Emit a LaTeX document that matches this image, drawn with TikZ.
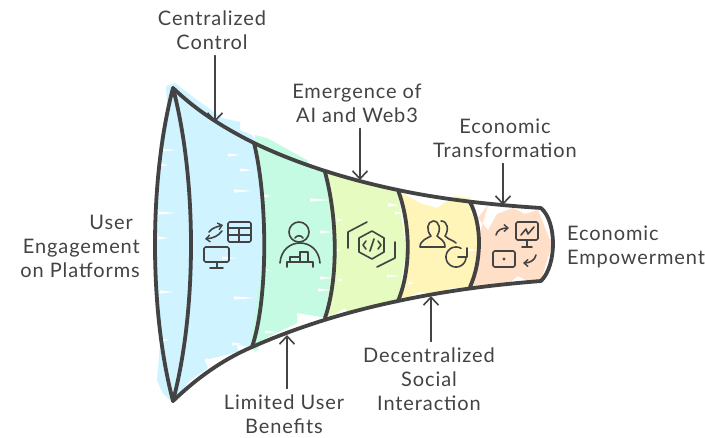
\documentclass[tikz,border=0pt]{standalone}
\usepackage{fontspec}
\setmainfont[LetterSpace=4.5]{Lato}
\usetikzlibrary{arrows.meta}
\definecolor{ink}{HTML}{434343}
\definecolor{cblue}{HTML}{CFF3FF}
\definecolor{cgreen}{HTML}{C5FBE3}
\definecolor{clime}{HTML}{E6FBC0}
\definecolor{cyellow}{HTML}{FFF5B8}
\definecolor{cpeach}{HTML}{FFDFC8}
\tikzset{
  outline/.style={draw=ink,line width=3.8pt,line cap=round,line join=round},
  icon/.style={draw=ink,line width=1.6pt,line cap=round,line join=round},
  iconarr/.style={icon,-{Straight Barb[length=4pt,width=7pt,line width=1.4pt]}},
  callout/.style={draw=ink,line width=1.6pt,line cap=round,-{Straight Barb[length=8pt,width=15pt,line width=1.6pt]}},
  label/.style={text=ink,inner sep=0pt,align=center,font=\fontsize{20}{24}\selectfont},
}
\newcommand{\spikes}[1]{\foreach \sx/\sy/\sl in {#1}{\fill[white] (\sx,\sy-1.6) -- (\sx+\sl,\sy) -- (\sx,\sy+1.6) -- cycle;}}
\begin{document}
\begin{tikzpicture}[x=1pt,y=-1pt]
\useasboundingbox (0,0) rectangle (705,437);
\fill[white] (0,0) rectangle (705,437);
% fills
\fill[cblue] (166,86) -- (175,83) -- (197,100) -- (222,118) -- (240,122) -- (240,130) -- (252,135) -- (258,143) -- (264,200) -- (264,300) -- (252,347) -- (237,345) -- (238,352) -- (205,360) -- (208,368) -- (188,382) -- (182,392) -- (172,402) -- (162,392) -- (157,380) -- (160,345) -- (154,245) -- (160,140) -- (167,105) -- cycle;
\fill[cgreen] (255,135) -- (267,138) -- (307,160) -- (313,170) -- (328,170) -- (335,250) -- (328,318) -- (297,313) -- (297,323) -- (262,340) -- (256,352) -- (250,347) -- (264,250) -- cycle;
\fill[clime] (325,170) -- (340,176) -- (398,190) -- (406,250) -- (398,303) -- (347,312) -- (345,308) -- (325,320) -- (334,250) -- cycle;
\fill[cyellow] (400,192) -- (420,203) -- (437,208) -- (455,196) -- (470,198) -- (479,240) -- (471,288) -- (450,288) -- (440,295) -- (420,292) -- (400,300) -- (407,250) -- cycle;
\fill[cpeach] (488,205) -- (478,218) -- (488,230) -- (497,214) -- (513,208) -- (525,214) -- (538,210) -- (552,245) -- (541,280) -- (528,281) -- (518,276) -- (505,286) -- (485,287) -- (472,287) -- (478,240) -- cycle;
% white scribble gaps
\spikes{160/150/17,159/165/10,158/213/18,158/238/10,160/292/14,160/340/10,234/191/18,222/258/14,234/298/22,232/344/10,205/360/16,228/155/12,240/170/12}
\spikes{263/196/8,262/270/8,310/200/22,320/232/12,320/278/12,318/290/14,265/332/12}
\spikes{395/213/8,387/276/12,388/205/12,335/250/6,337/220/6,338/280/5}
\spikes{466/250/12,470/212/6,405/247/5,408/283/6}
% outlines
\draw[outline] (173,88) .. controls (149,180) and (149,310) .. (173,401);
\draw[outline] (173,88) .. controls (197,180) and (197,310) .. (173,401);
\draw[outline] (173,88) .. controls (197,111) and (224,128) .. (254,143) .. controls (300,165) and (350,180) .. (398,190) .. controls (445,200) and (495,205) .. (541,208);
\draw[outline] (541,208) .. controls (557,222) and (557,265) .. (541,281);
\draw[outline] (541,281) .. controls (490,285) and (445,291) .. (398,301) .. controls (345,312) and (295,328) .. (252,347) .. controls (222,360) and (197,378) .. (173,401);
\draw[outline] (254,143) .. controls (268,200) and (268,300) .. (252,347);
\draw[outline] (325,172) .. controls (338,220) and (338,280) .. (325,318);
\draw[outline] (398,190) .. controls (411,225) and (411,270) .. (398,301);
\draw[outline] (470,202) .. controls (482,225) and (482,260) .. (470,287);
% icon 1
\draw[icon,rounded corners=1.5pt] (228,222) rectangle (251,242);
\draw[icon] (228,228) -- (251,228) (228,235) -- (251,235) (239,228) -- (239,242);
\draw[icon,rounded corners=1.5pt] (204,247) rectangle (229,262);
\draw[icon] (217,262) -- (217,267) (210,268) -- (223,268);
\draw[iconarr] (209,232) .. controls (212,228) and (216,227) .. (223,225);
\draw[iconarr] (222,231) .. controls (218,236) and (214,238) .. (205,239);
% icon 2
\draw[icon] (299,232) circle (10);
\draw[icon] (295,238) .. controls (297,235) and (301,235) .. (303,238);
\draw[icon] (280,263) .. controls (281,250) and (290,243) .. (300,243) .. controls (310,243) and (319,250) .. (320,263);
\draw[icon] (290,262) -- (290,257) -- (300,257) -- (300,252) -- (308,252) -- (308,262) (300,257) -- (300,262);
\draw[icon] (287,267) -- (287,262) -- (313,262) -- (313,267);
% icon 3
\draw[icon] (372,231) -- (384,238) -- (384,252) -- (372,259) -- (359,252) -- (359,238) -- cycle;
\draw[icon] (366,241) -- (363,245) -- (366,249) (378,241) -- (381,245) -- (378,249) (374,239) -- (370,251);
\draw[icon] (348,248) -- (348,232) -- (367,222) (395,242) -- (395,258) -- (377,267);
% icon 4
\draw[icon] (420,247) -- (445,247) (420,247) .. controls (420,240) and (428,238) .. (431,236) .. controls (426,230) and (427,222) .. (433,221) .. controls (440,221) and (441,230) .. (437,236) .. controls (440,239) and (445,240) .. (445,247);
\draw[icon] (441,221) .. controls (448,221) and (449,230) .. (445,236) .. controls (449,240) and (453,240) .. (456,243);
\draw[icon] plot[domain=-60:-360,samples=40] ({456+10*cos(\x)},{257+10*sin(\x)});
\draw[icon] (467,248) -- (467,257) -- (458,257);
% icon 5
\draw[iconarr] (496,235) .. controls (497,230) and (502,228) .. (509,228);
\draw[icon,rounded corners=1.5pt] (516,222) rectangle (538,240);
\draw[icon] (527,240) -- (527,246) (522,247) -- (532,247) (521,235) -- (526,229) -- (528,234) -- (534,227);
\draw[icon,rounded corners=1.5pt] (493,251) rectangle (515,267);
\fill[ink] (504,259) circle (1.6);
\draw[iconarr] (536,255) .. controls (535,260) and (530,263) .. (523,263);
% labels
\node[label] (lcentral) at (212,30) {Centralized\\Control};
\node[label] (lai) at (357,103) {Emergence of\\AI and Web3};
\node[label] (ltrans) at (505,138) {Economic\\Transformation};
\node[label,align=right,anchor=east] (luser) at (140,246) {User\hspace*{7pt}\\Engagement\hspace*{7pt}\\on Platforms};
\node[label,align=left,anchor=west] (lemp) at (567,247) {Economic\\Empowerment};
\node[label] (ldec) at (429,379) {Decentralized\\Social\\Interaction};
\node[label] (llim) at (284,414) {Limited User\\Benefits};
% connectors
\coordinate (tcentral) at (215,122);
\coordinate (tai) at (360,180);
\coordinate (ttrans) at (503,205);
\coordinate (tdec) at (431,296);
\coordinate (tlim) at (287,335);
\draw[callout] ([yshift=-6pt]lcentral.south -| tcentral) -- (tcentral);
\draw[callout] ([yshift=-6pt]lai.south -| tai) -- (tai);
\draw[callout] ([yshift=-6pt]ltrans.south -| ttrans) -- (ttrans);
\draw[callout] ([yshift=6pt]ldec.north -| tdec) -- (tdec);
\draw[callout] ([yshift=6pt]llim.north -| tlim) -- (tlim);
\end{tikzpicture}
\end{document}
